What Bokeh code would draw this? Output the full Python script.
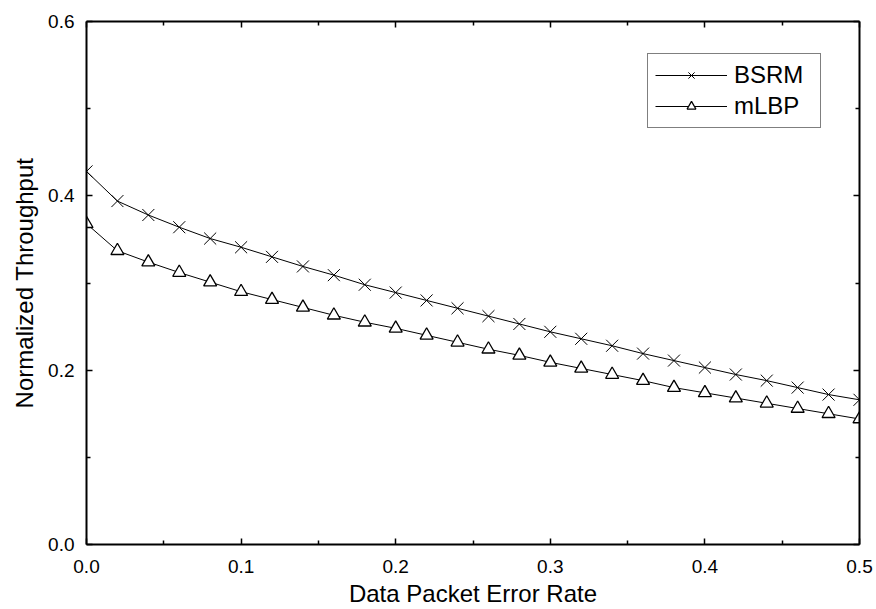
from bokeh.plotting import figure
from bokeh.models import (ColumnDataSource, FixedTicker, LinearAxis, Range1d,
                          PrintfTickFormatter, Legend, LegendItem)
from bokeh.embed import file_html
from bokeh.resources import INLINE

# ---- data ----
error_rate = [0.00, 0.02, 0.04, 0.06, 0.08, 0.10, 0.12, 0.14, 0.16, 0.18,
              0.20, 0.22, 0.24, 0.26, 0.28, 0.30, 0.32, 0.34, 0.36, 0.38,
              0.40, 0.42, 0.44, 0.46, 0.48, 0.50]
bsrm = [0.428, 0.394, 0.378, 0.364, 0.351, 0.341, 0.330, 0.319, 0.309, 0.298,
        0.289, 0.280, 0.271, 0.262, 0.253, 0.244, 0.236, 0.228, 0.219, 0.211,
        0.203, 0.195, 0.188, 0.180, 0.172, 0.166]
mlbp = [0.368, 0.337, 0.324, 0.312, 0.301, 0.290, 0.281, 0.272, 0.263, 0.255,
        0.248, 0.240, 0.232, 0.224, 0.217, 0.209, 0.202, 0.195, 0.188, 0.180,
        0.174, 0.168, 0.162, 0.156, 0.150, 0.144]
x_ticks = [0.0, 0.1, 0.2, 0.3, 0.4, 0.5]
x_minor = [0.05, 0.15, 0.25, 0.35, 0.45]
y_ticks = [0.0, 0.2, 0.4, 0.6]
y_minor = [0.1, 0.3, 0.5]

FONT = "Liberation Sans"

src = ColumnDataSource(dict(x=error_rate, bsrm=bsrm, mlbp=mlbp))

p = figure(width=876, height=609, output_backend="svg", toolbar_location=None,
           x_range=Range1d(0, 0.5), y_range=Range1d(0, 0.6),
           min_border_left=86, min_border_top=21, min_border_right=17,
           min_border_bottom=63, x_axis_location=None, y_axis_location=None)
p.grid.visible = False
p.outline_line_color = None
p.background_fill_color = "white"
p.border_fill_color = "white"


def style_axis(ax, show_labels):
    ax.axis_line_width = 2
    ax.axis_line_color = "black"
    ax.major_tick_in = 6
    ax.major_tick_out = 0
    ax.minor_tick_in = 4
    ax.minor_tick_out = 0
    ax.major_tick_line_width = 1.5
    ax.minor_tick_line_width = 1.5
    ax.major_tick_line_color = "black"
    ax.minor_tick_line_color = "black"
    ax.formatter = PrintfTickFormatter(format="%.1f")
    if show_labels:
        ax.major_label_text_font = FONT
        ax.major_label_text_font_size = "19px"
        ax.major_label_text_color = "black"
        ax.axis_label_text_font = FONT
        ax.axis_label_text_font_size = "24px"
        ax.axis_label_text_font_style = "normal"
        ax.axis_label_text_color = "black"
    else:
        ax.major_label_text_color = None
        ax.major_label_text_font_size = "0px"
        ax.major_label_standoff = 0


xb = LinearAxis(ticker=FixedTicker(ticks=x_ticks, minor_ticks=x_minor),
                axis_label="Data Packet Error Rate")
style_axis(xb, True)
xb.major_label_standoff = 15
xb.axis_label_standoff = 4
p.add_layout(xb, "below")

yl = LinearAxis(ticker=FixedTicker(ticks=y_ticks, minor_ticks=y_minor),
                axis_label="Normalized Throughput")
style_axis(yl, True)
yl.major_label_standoff = 12
yl.axis_label_standoff = 7
p.add_layout(yl, "left")

xt = LinearAxis(ticker=FixedTicker(ticks=x_ticks, minor_ticks=x_minor))
style_axis(xt, False)
p.add_layout(xt, "above")

yr = LinearAxis(ticker=FixedTicker(ticks=y_ticks, minor_ticks=y_minor))
style_axis(yr, False)
p.add_layout(yr, "right")

l1 = p.line("x", "bsrm", source=src, line_color="black", line_width=1)
m1 = p.scatter("x", "bsrm", source=src, marker="x", size=17,
               line_color="black", line_width=1)
l2 = p.line("x", "mlbp", source=src, line_color="black", line_width=1)
m2 = p.scatter("x", "mlbp", source=src, marker="triangle", size=13,
               line_color="black", fill_color="white", line_width=1.3)

legend = Legend(items=[LegendItem(label="BSRM", renderers=[l1, m1]),
                       LegendItem(label="mLBP", renderers=[l2, m2])],
                location=(561, 416))
legend.border_line_color = "black"
legend.border_line_width = 1
legend.background_fill_alpha = 1
legend.label_text_font = FONT
legend.label_text_font_size = "24px"
legend.label_text_color = "black"
legend.glyph_width = 72
legend.glyph_height = 22
legend.label_height = 22
legend.label_width = 79
legend.label_standoff = 7
legend.spacing = 3
legend.padding = 7
legend.margin = 0
p.add_layout(legend, "center")

open("out.html", "w").write(file_html(p, INLINE))
